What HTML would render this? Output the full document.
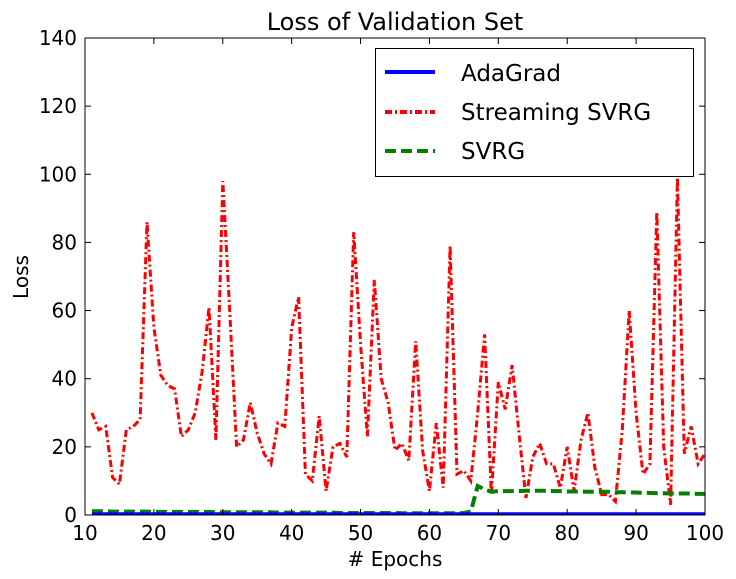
<!DOCTYPE html>
<html><head><meta charset="utf-8"><style>
body{margin:0;background:#fff;}
svg{display:block;font-family:"DejaVu Sans","Liberation Sans",sans-serif;}
</style></head><body>
<svg id="chart" width="736" height="579" viewBox="0 0 736 579" xmlns="http://www.w3.org/2000/svg">
<rect width="736" height="579" fill="#fff"/>
<text x="395" y="30" font-size="24" text-anchor="middle">Loss of Validation Set</text>
<g id="plot"></g>
<text x="395" y="566" font-size="20" text-anchor="middle"># Epochs</text>
<text x="28" y="277" font-size="20" text-anchor="middle" transform="rotate(-90 28 277)">Loss</text>
<g>
<rect x="375.5" y="48.5" width="318" height="128" fill="#fff" stroke="#000" stroke-width="1"/>
<line x1="385" y1="72" x2="435" y2="72" stroke="#0000ff" stroke-width="4"/>
<text x="461" y="81" font-size="23">AdaGrad</text>
<line x1="385" y1="112" x2="435" y2="112" stroke="#ff0000" stroke-width="4" stroke-dasharray="7,3,2,3"/>
<text x="461" y="120" font-size="23">Streaming SVRG</text>
<line x1="385" y1="151" x2="435" y2="151" stroke="#008000" stroke-width="4" stroke-dasharray="11,5"/>
<text x="461" y="159" font-size="23">SVRG</text>
</g>
</svg>
<script>
const epochs = [];
for (let e = 11; e <= 100; e++) epochs.push(e);
const streamingSvrg = [30,25,26,11,9,25,26,28,86,55,41,38,37,23,25,30,42,61,22,98,60,20,22,33,24,18,15,27,26,55,64,12,10,29,7,20,21,17,83,50,23,69,40,33,19,21,16,51,19,7,27,8,79,12,13,10,30,53,6,39,31,44,24,5,17,21,15,15,8,20,7,22,30,14,6,6,4,25,60,30,12,15,89,20,3,99,18,26,15,18];
const svrg = [1.1,1.1,1.1,1.0,1.0,1.0,1.0,1.0,1.0,0.9,0.9,0.9,0.9,0.9,0.9,0.9,0.9,0.9,0.8,0.8,0.8,0.8,0.8,0.8,0.8,0.8,0.8,0.7,0.7,0.7,0.7,0.7,0.7,0.7,0.7,0.7,0.6,0.6,0.6,0.6,0.6,0.6,0.6,0.6,0.6,0.5,0.5,0.5,0.5,0.5,0.5,0.5,0.5,0.5,0.6,1.0,8.5,7.5,6.8,7.0,7.0,7.0,7.0,7.1,7.1,7.1,7.1,7.0,7.0,6.9,6.9,6.9,6.8,6.8,6.8,6.8,6.7,6.7,6.6,6.6,6.5,6.5,6.4,6.4,6.3,6.3,6.3,6.3,6.2,6.2];
const adagrad = epochs.map(() => 0.2);
const xTicks = [10,20,30,40,50,60,70,80,90,100];
const yTicks = [0,20,40,60,80,100,120,140];

const L=85,R=705,T=38,B=515;
const xs = v => L + (v-10)/(100-10)*(R-L);
const ys = v => B - v/140*(B-T);
const NS="http://www.w3.org/2000/svg";
const g=document.getElementById('plot');
function mk(tag, attrs){const el=document.createElementNS(NS,tag);for(const k in attrs)el.setAttribute(k,attrs[k]);return el;}

const clip=mk('clipPath',{id:'pc'});clip.appendChild(mk('rect',{x:L,y:T,width:R-L,height:B-T}));g.appendChild(clip);

function series(vals,color,w,dash,name){
  const d=vals.map((v,i)=>(i?'L':'M')+xs(epochs[i]).toFixed(1)+','+ys(v).toFixed(1)).join(' ');
  const p=mk('path',{d:d,fill:'none',stroke:color,'stroke-width':w,'clip-path':'url(#pc)'});
  if(dash)p.setAttribute('stroke-dasharray',dash);
  
  
  g.appendChild(p);
}
series(streamingSvrg,'#ff0000',3,'7,3,2,3','streaming-svrg-line');
series(svrg,'#008000',4,'11,5','svrg-line');
series(adagrad,'#0000ff',4,null,'adagrad-line');

const frame=mk('rect',{x:L,y:T,width:R-L,height:B-T,fill:'none',stroke:'#000','stroke-width':1});


g.appendChild(frame);

xTicks.forEach(t=>{
  const x=xs(t);
  g.appendChild(mk('line',{x1:x,y1:B,x2:x,y2:B-6,stroke:'#000'}));
  g.appendChild(mk('line',{x1:x,y1:T,x2:x,y2:T+6,stroke:'#000'}));
  const tx=mk('text',{x:x,y:B+25,'font-size':20,'text-anchor':'middle'});
  tx.textContent=t;
  
  
  g.appendChild(tx);
});
yTicks.forEach(t=>{
  const y=ys(t);
  g.appendChild(mk('line',{x1:L,y1:y,x2:L+6,y2:y,stroke:'#000'}));
  g.appendChild(mk('line',{x1:R,y1:y,x2:R-6,y2:y,stroke:'#000'}));
  const tx=mk('text',{x:L-8,y:y+7,'font-size':20,'text-anchor':'end'});
  tx.textContent=t;
  
  
  g.appendChild(tx);
});
</script>
</body></html>
